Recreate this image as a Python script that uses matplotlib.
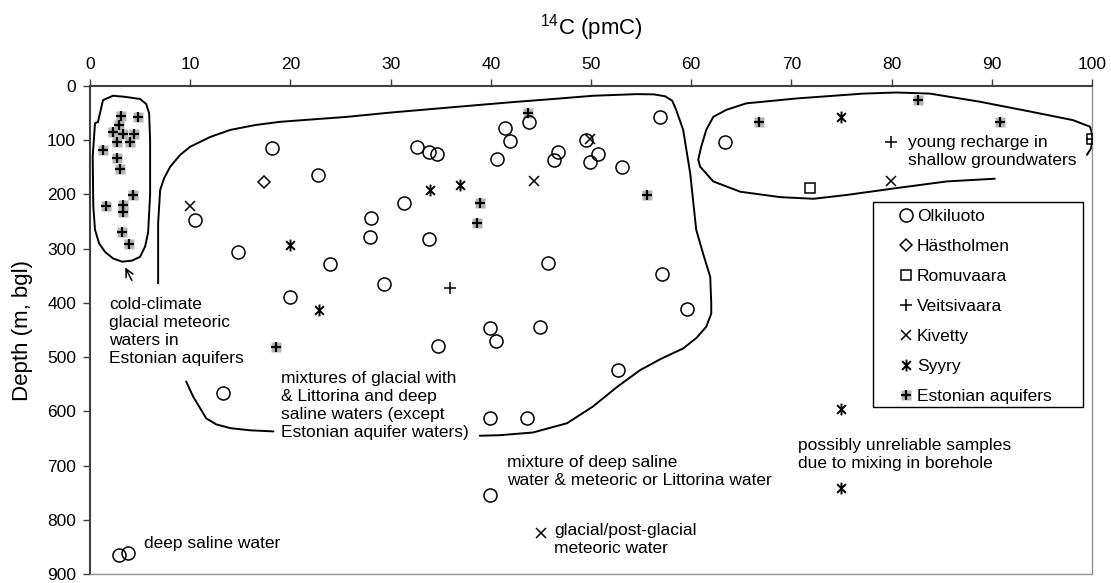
import matplotlib
matplotlib.use('Agg')
import matplotlib.pyplot as plt
from matplotlib.path import Path
from matplotlib.patches import Rectangle

plt.rcParams['font.family'] = ['Liberation Sans', 'DejaVu Sans']
plt.rcParams['mathtext.default'] = 'regular'

# 14C (pmC) vs depth (m) for each site
olk_x = [18.2, 22.8, 10.5, 14.8, 24.0, 28.0, 27.9, 20.0, 29.3, 31.3, 33.8, 32.6, 33.8, 34.6,
         40.6, 41.4, 41.9, 43.8, 46.7, 46.3, 49.5, 50.7, 49.9, 53.1, 56.9, 63.4, 45.7, 57.1,
         59.6, 39.9, 44.9, 40.5, 34.7, 52.7, 39.9, 43.6, 39.9, 13.3, 2.9, 3.8]
olk_y = [114, 164, 247, 307, 328, 244, 279, 389, 366, 215, 283, 113, 121, 126,
         135, 77, 101, 67, 121, 136, 100, 125, 141, 150, 58, 103, 327, 347,
         411, 447, 444, 470, 480, 524, 613, 613, 754, 567, 865, 861]
hast_x = [17.4]
hast_y = [177]
romu_x = [71.9, 100.0]
romu_y = [189, 98]
veit_x = [35.9, 79.9, 100.0]
veit_y = [372, 104, 98]
kiv_x = [10.0, 49.9, 44.3, 79.9, 45.0]
kiv_y = [221, 98, 176, 176, 825]
syy_x = [20.0, 22.9, 33.9, 36.9, 75.0, 75.0, 75.0]
syy_y = [293, 414, 191, 183, 57, 596, 742]
est_x = [3.1, 4.8, 2.9, 2.3, 3.3, 4.4, 2.7, 4.0, 1.3, 2.7, 3.0, 4.3, 1.6, 3.3, 3.3, 3.2, 3.9,
         43.7, 38.9, 38.6, 55.6, 18.6, 66.8, 82.6, 90.8]
est_y = [55, 58, 72, 85, 89, 89, 104, 104, 118, 132, 154, 201, 221, 219, 232, 270, 291,
         50, 216, 252, 201, 481, 66, 26, 66]

# hand-drawn group outlines (pmC, depth)
left_loop_x = [0.8, 1.3, 2.3, 3.5, 5.0, 5.6, 5.9, 6.0, 6.0, 5.8, 5.5, 5.0, 4.2, 3.2, 2.3, 1.5, 0.9, 0.5, 0.33, 0.27, 0.5, 0.8]
left_loop_y = [66, 26, 18, 20, 24, 33, 50, 100, 200, 270, 296, 315, 322, 324, 318, 306, 290, 265, 222, 130, 69, 66]
mid_a_x = [9.6, 10.3, 11.6, 12.6, 14.0, 16.0, 18.3]
mid_a_y = [545, 573, 613, 624, 631, 635, 637]
mid_b_x = [38.9, 40.9, 44.2, 47.6, 50.2, 52.6, 54.9, 57.0, 59.2, 60.5, 61.5, 62.0, 62.0, 61.9, 61.2,
           60.5, 59.9, 59.2, 58.5, 58.1, 57.4, 56.3, 54.6, 50.2, 46.9, 42.0, 36.9, 30.0, 25.6, 19.0,
           16.5, 14.0, 12.0, 10.0, 9.0, 8.0, 7.4, 7.0, 6.8, 6.8]
mid_b_y = [645, 644, 639, 622, 591, 555, 524, 503, 484, 465, 444, 420, 401, 352, 310,
           265, 161, 81, 44, 27, 19, 15.5, 15, 18, 23, 30, 38, 49, 57, 66,
           72, 81, 94, 112, 127, 149, 170, 192, 253, 364]
right_x = [90.3, 85.5, 80.2, 75.5, 72.2, 68.9, 64.9, 62.2, 60.9, 60.7, 61.0, 61.5, 62.2, 63.5, 65.5,
           70.5, 77.2, 80.5, 83.8, 88.8, 93.8, 98.1, 99.8, 100.1, 99.9, 99.5]
right_y = [171, 176, 189, 201, 208, 205, 195, 176, 149, 136, 112, 81, 57, 44, 32,
           23, 14, 12, 14, 29, 47, 63, 75, 94, 115, 127]

fig = plt.figure(figsize=(11.11, 5.83), dpi=100)
ax = fig.add_axes([0.081, 0.0154, 0.9019, 0.8371])

# outlines
for xs, ys in [(left_loop_x, left_loop_y), (mid_a_x, mid_a_y), (mid_b_x, mid_b_y), (right_x, right_y)]:
    ax.plot(xs, ys, color='black', lw=1.4, zorder=2, solid_capstyle='round', solid_joinstyle='round')

syyry = Path([(-1, -1), (1, 1), (-1, 1), (1, -1), (0, -1.35), (0, 1.35)],
             [Path.MOVETO, Path.LINETO] * 3)

kw = dict(ls='none', color='black', zorder=5, clip_on=True)
h_olk, = ax.plot(olk_x, olk_y, marker='o', ms=9.4, mfc='none', mew=1.1, **kw)
h_has, = ax.plot(hast_x, hast_y, marker='D', ms=6, mfc='none', mew=1.1, **kw)
h_rom, = ax.plot(romu_x, romu_y, marker='s', ms=7.5, mfc='none', mew=1.1, **kw)
h_vei, = ax.plot(veit_x, veit_y, marker='+', ms=8, mew=1.1, **kw)
h_kiv, = ax.plot(kiv_x, kiv_y, marker='x', ms=7.5, mew=1.1, **kw)
h_syy, = ax.plot(syy_x, syy_y, marker=syyry, ms=8.5, mew=1.4, **kw)
h_est_bg, = ax.plot(est_x, est_y, ls='none', marker='s', ms=7.5, color='#b4b4b4', mec='none', zorder=4)
h_est, = ax.plot(est_x, est_y, marker='+', ms=7.5, mew=1.6, **kw)

# annotations
fs = 12.5
ax.text(1.9, 452, 'cold-climate\nglacial meteoric\nwaters in\nEstonian aquifers', fontsize=fs,
        ha='left', va='center', linespacing=1.25)
ax.annotate('', xy=(3.4, 330), xytext=(4.3, 363),
            arrowprops=dict(arrowstyle='->', color='black', lw=1.1, mutation_scale=14))
ax.text(19.1, 589, 'mixtures of glacial with\n& Littorina and deep\nsaline waters (except\nEstonian aquifer waters)',
        fontsize=fs, ha='left', va='center', linespacing=1.25)
ax.text(41.65, 711, 'mixture of deep saline\nwater & meteoric or Littorina water', fontsize=fs,
        ha='left', va='center', linespacing=1.25)
ax.text(46.3, 837, 'glacial/post-glacial\nmeteoric water', fontsize=fs, ha='left', va='center', linespacing=1.25)
ax.text(5.4, 843, 'deep saline water', fontsize=fs, ha='left', va='center')
ax.text(81.6, 120, 'young recharge in\nshallow groundwaters', fontsize=fs, ha='left', va='center', linespacing=1.25)
ax.text(70.7, 680, 'possibly unreliable samples\ndue to mixing in borehole', fontsize=fs,
        ha='left', va='center', linespacing=1.25)

# axes
ax.set_xlim(0, 100)
ax.set_ylim(900, 0)
ax.set_xticks(range(0, 101, 10))
ax.set_yticks(range(0, 901, 100))
ax.xaxis.tick_top()
ax.xaxis.set_label_position('top')
ax.set_xlabel('$^{14}$C (pmC)', fontsize=16, labelpad=16)
ax.set_ylabel('Depth (m, bgl)', fontsize=16, labelpad=10)
ax.tick_params(axis='both', labelsize=12.5, length=5, width=1, color='#404040', direction='out', pad=5)
for s in ['top', 'left']:
    ax.spines[s].set_color('#404040')
    ax.spines[s].set_linewidth(1.5)
for s in ['right', 'bottom']:
    ax.spines[s].set_color('#909090')
    ax.spines[s].set_linewidth(1.0)

# legend with its own box
ax.add_patch(Rectangle((0.781, 0.342), 0.21, 0.42, transform=ax.transAxes, fill=False,
                       ec='black', lw=1.0, zorder=6))
leg = ax.legend([h_olk, h_has, h_rom, h_vei, h_kiv, h_syy, (h_est_bg, h_est)],
                ['Olkiluoto', 'Hästholmen', 'Romuvaara', 'Veitsivaara', 'Kivetty', 'Syyry', 'Estonian aquifers'],
                loc='upper left', bbox_to_anchor=(0.808, 0.748), frameon=False, fontsize=fs,
                handlelength=0.7, handletextpad=0.3, labelspacing=0.85, borderpad=0, borderaxespad=0)
leg.set_zorder(7)

fig.savefig('out.png', dpi=100)
